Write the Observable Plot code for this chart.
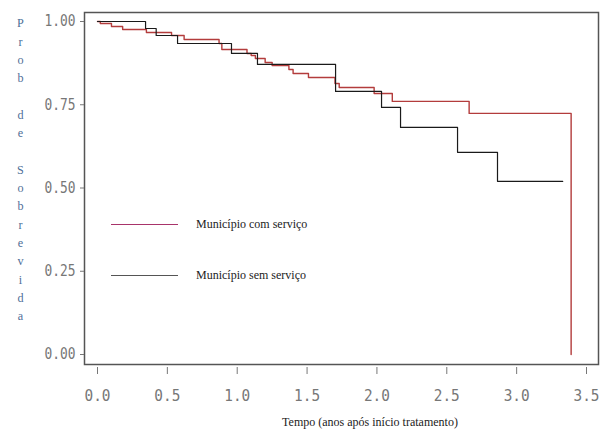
<!DOCTYPE html>
<html>
<head>
<meta charset="utf-8">
<script src="https://cdn.jsdelivr.net/npm/d3@7"></script>
<script src="https://cdn.jsdelivr.net/npm/@observablehq/plot@0.6"></script>
<style>
  body { margin: 0; background: #fff; }
  #wrap { position: relative; width: 600px; height: 430px; overflow: hidden; }
  #legend { position: absolute; left: 111px; top: 214px; font-family: "Liberation Serif", serif; font-size: 12px; color: #222; }
  .row { display: flex; align-items: center; height: 20px; }
  .row + .row { margin-top: 31px; }
  .sw { width: 67px; height: 0; border-top: 1.6px solid; margin-right: 18px; }
</style>
</head>
<body>
<div id="wrap"></div>
<script>
// Series names
const seriesNames = ["Município com serviço", "Município sem serviço"];
const seriesColors = ["#b33c3c", "#1a1a1a"];
// Kaplan–Meier steps: Município com serviço
const comTempo  = [0, 0.02, 0.10, 0.18, 0.35, 0.53, 0.62, 0.87, 0.89, 1.07, 1.10, 1.13, 1.20, 1.25, 1.37, 1.40, 1.51, 1.70, 1.73, 1.98, 2.11, 2.66, 3.39];
const comSobrev = [1, 0.994, 0.985, 0.976, 0.967, 0.958, 0.946, 0.934, 0.916, 0.904, 0.898, 0.889, 0.877, 0.868, 0.856, 0.844, 0.832, 0.814, 0.802, 0.784, 0.760, 0.724, 0];
// Município sem serviço
const semTempo  = [0, 0.344, 0.42, 0.573, 0.959, 1.145, 1.704, 2.033, 2.169, 2.577, 2.863, 3.33];
const semSobrev = [1, 0.979, 0.958, 0.934, 0.904, 0.871, 0.790, 0.742, 0.682, 0.607, 0.520, 0.520];
// Ticks and labels
const xTicks = [0, 0.5, 1, 1.5, 2, 2.5, 3, 3.5];
const yTicks = [0, 0.25, 0.5, 0.75, 1];
const xTitle = "Tempo (anos após início tratamento)";
const yTitle = "Prob de Sobrevida";

const com = comTempo.map((t, i) => ({t, s: comSobrev[i]}));
const sem = semTempo.map((t, i) => ({t, s: semSobrev[i]}));
const yLabelStacked = yTitle.split("").map(c => c === " " ? "\u00a0" : c).join("\n");

const chart = Plot.plot({
  width: 600,
  height: 430,
  marginLeft: 97,
  marginRight: 14,
  marginTop: 21,
  marginBottom: 76,
  style: {background: "white"},
  x: {domain: [0, 3.5]},
  y: {domain: [0, 1]},
  marks: [
    Plot.frame({stroke: "#555", strokeWidth: 1.5, insetLeft: -13, insetRight: -12, insetTop: -9, insetBottom: -10}),
    Plot.line(com, {x: "t", y: "s", curve: "step-after", stroke: seriesColors[0], strokeWidth: 1.4}),
    Plot.line(sem, {x: "t", y: "s", curve: "step-after", stroke: seriesColors[1], strokeWidth: 1.2}),
    Plot.axisX({ticks: xTicks, tickFormat: d3.format(".1f"), tickSize: 7, dy: 13, tickPadding: 15,
      fontFamily: "DejaVu Sans Mono", fontSize: 15.5, color: "#777", label: null}),
    Plot.axisY({ticks: yTicks, tickFormat: d3.format(".2f"), tickSize: 4, dx: -13, tickPadding: 5,
      fontFamily: "DejaVu Sans Mono", fontSize: 15, color: "#777", label: null}),
    Plot.text([yLabelStacked], {frameAnchor: "top-left", dx: -77, dy: -7, lineAnchor: "top", lineHeight: 1.5,
      textAnchor: "middle", fontFamily: "Liberation Serif", fontSize: 12.2, fill: "#4f6f98"}),
    Plot.text([xTitle], {frameAnchor: "bottom", dx: 28, dy: 71, textAnchor: "middle",
      fontFamily: "Liberation Serif", fontSize: 12, fill: "#222"})
  ]
});

d3.select(chart).selectAll('g[aria-label="x-axis tick label"] text')
  .attr("textLength", 26).attr("lengthAdjust", "spacingAndGlyphs");
d3.select(chart).selectAll('g[aria-label="y-axis tick label"] text')
  .attr("textLength", 31).attr("lengthAdjust", "spacingAndGlyphs");

const wrap = document.getElementById("wrap");
wrap.appendChild(chart);

const legend = document.createElement("div");
legend.id = "legend";
seriesNames.forEach((name, i) => {
  const row = document.createElement("div");
  row.className = "row";
  const sw = document.createElement("span");
  sw.className = "sw";
  sw.style.borderTopColor = i === 0 ? "#a8346a" : "#555";
  const label = document.createElement("span");
  label.textContent = name;
  row.appendChild(sw);
  row.appendChild(label);
  legend.appendChild(row);
});
wrap.appendChild(legend);
</script>
</body>
</html>
